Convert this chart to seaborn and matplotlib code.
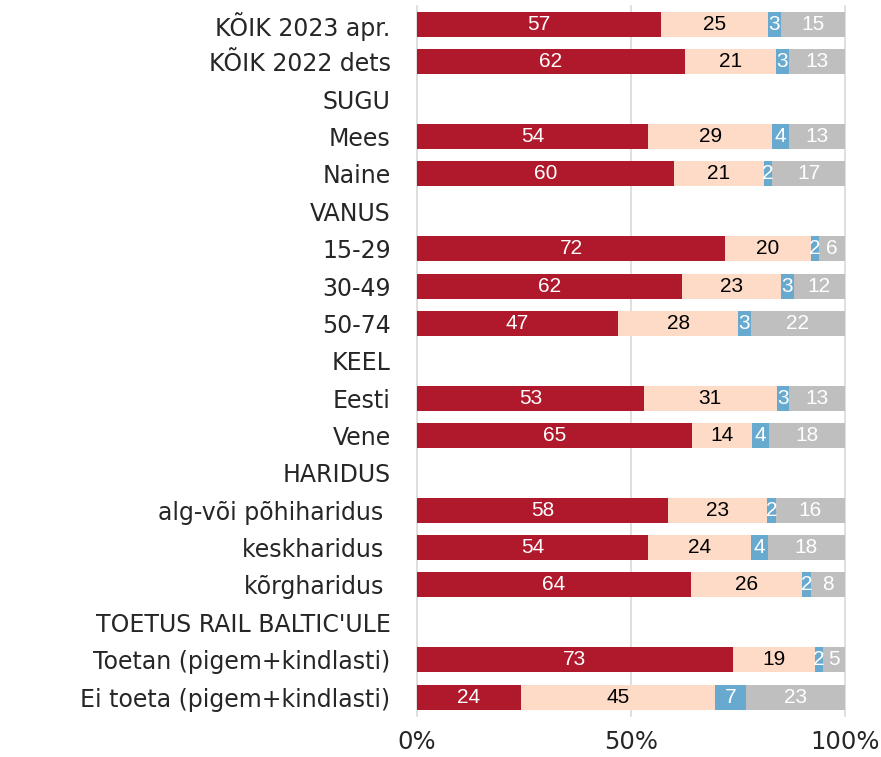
import matplotlib
matplotlib.use("Agg")
import matplotlib.pyplot as plt
import seaborn as sns
import pandas as pd
import numpy as np

labels = ["KÕIK 2023 apr.", "KÕIK 2022 dets", "SUGU", "Mees", "Naine", "VANUS",
          "15-29", "30-49", "50-74", "KEEL", "Eesti", "Vene", "HARIDUS",
          "alg-või põhiharidus ", "keskharidus ", "kõrgharidus ",
          "TOETUS RAIL BALTIC'ULE", "Toetan (pigem+kindlasti)", "Ei toeta (pigem+kindlasti)"]
# None marks header rows
s1 = [57, 62, None, 54, 60, None, 72, 62, 47, None, 53, 65, None, 58, 54, 64, None, 73, 24]
s2 = [25, 21, None, 29, 21, None, 20, 23, 28, None, 31, 14, None, 23, 24, 26, None, 19, 45]
s3 = [3, 3, None, 4, 2, None, 2, 3, 3, None, 3, 4, None, 2, 4, 2, None, 2, 7]
s4 = [15, 13, None, 13, 17, None, 6, 12, 22, None, 13, 18, None, 16, 18, 8, None, 5, 23]

colors = ["#B0182B", "#FDDBC7", "#67A9CF", "#BFBFBF"]
text_colors = ["white", "black", "white", "white"]

vals = np.array([[np.nan if v is None else v for v in s] for s in (s1, s2, s3, s4)], dtype=float).T
tot = np.nansum(vals, axis=1)
tot[tot == 0] = 1
norm = np.nan_to_num(vals) / tot[:, None] * 100
cum = np.cumsum(norm, axis=1)

df = pd.DataFrame({"label": labels})
for i in range(4):
    df[f"c{i}"] = cum[:, i]

fig = plt.figure(figsize=(8.81, 7.57), dpi=100)
ax = fig.add_axes([417/881, 1-715.7/757, 428/881, (715.7-5.8)/757])

for i in [3, 2, 1, 0]:
    sns.barplot(data=df, x=f"c{i}", y="label", order=labels, color=colors[i],
                orient="h", width=0.67, linewidth=0, saturation=1, ax=ax, zorder=2)

for r in range(len(labels)):
    if np.isnan(vals[r, 0]):
        continue
    left = 0
    for i in range(4):
        w = norm[r, i]
        ax.text(left + w/2, r, f"{int(vals[r, i])}", ha="center", va="center",
                color=text_colors[i], fontsize=15, family="Liberation Sans", zorder=3)
        left += w

ax.set_xlim(0, 100)
ax.set_ylim(len(labels) - 0.5, -0.5)
ax.set_xticks([0, 50, 100])
ax.set_xticklabels(["0%", "50%", "100%"])
ax.xaxis.grid(True, color="#D9D9D9", linewidth=1.2, zorder=0)
for gl in ax.get_xgridlines():
    gl.set_clip_on(False)
ax.set_axisbelow(True)
ax.set_xlabel("")
ax.set_ylabel("")
for sp in ax.spines.values():
    sp.set_visible(False)
ax.tick_params(axis="y", length=0, pad=19, labelsize=17, labelcolor="#262626")
ax.tick_params(axis="x", length=0, pad=10, labelsize=17.5, labelcolor="#262626")
for t in ax.get_yticklabels() + ax.get_xticklabels():
    t.set_family("DejaVu Sans")
ax.set_facecolor("white")

fig.savefig("out.png", dpi=100, facecolor="white")
